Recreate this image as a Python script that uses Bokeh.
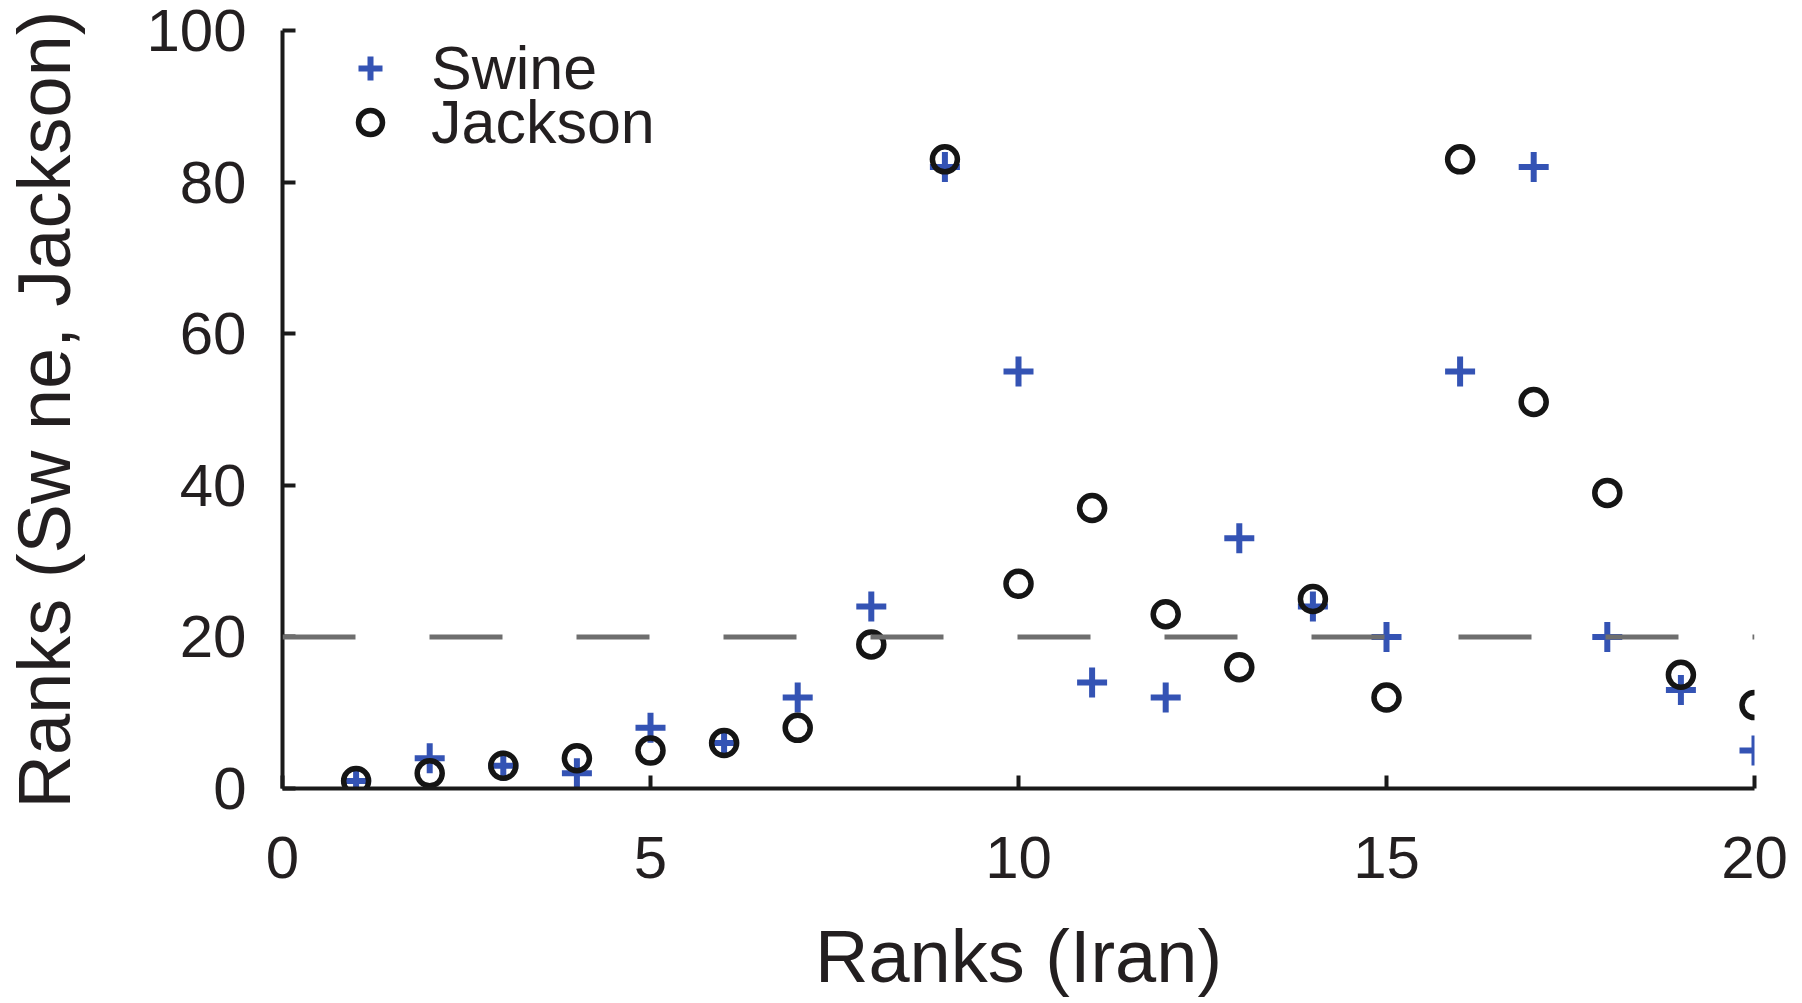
from bokeh.plotting import figure
from bokeh.models import Range1d, FixedTicker, Legend, LegendItem, Span
from bokeh.embed import file_html
from bokeh.resources import INLINE

# ---- data ----
iran_rank = list(range(1, 21))
swine_rank = [1, 4, 3, 2, 8, 6, 12, 24, 82, 55, 14, 12, 33, 24, 20, 55, 82, 20, 13, 5]
jackson_rank = [1, 2, 3, 4, 5, 6, 8, 19, 83, 27, 37, 23, 16, 25, 12, 83, 51, 39, 15, 11]
threshold = 20
x_ticks = [0, 5, 10, 15, 20]
y_ticks = [0, 20, 40, 60, 80, 100]
series_names = ["Swine", "Jackson"]

FONT = "Liberation Sans"
TXT = "#231f20"
AX = "#1a1a1a"
BLUE = "#3453b4"

p = figure(width=1800, height=1000,
           x_range=Range1d(0, 20), y_range=Range1d(0, 100),
           output_backend="svg", toolbar_location=None,
           min_border_left=280, min_border_right=46,
           min_border_top=30, min_border_bottom=212)
p.outline_line_color = None
p.xgrid.visible = False
p.ygrid.visible = False
p.background_fill_color = "white"
p.border_fill_color = "white"

for ax in (p.xaxis[0], p.yaxis[0]):
    ax.axis_line_width = 4
    ax.axis_line_color = AX
    ax.major_tick_line_width = 4
    ax.major_tick_line_color = AX
    ax.major_tick_in = 13
    ax.major_tick_out = 0
    ax.minor_tick_line_color = None
    ax.major_label_text_font = FONT
    ax.major_label_text_font_size = "60px"
    ax.major_label_text_color = TXT
    ax.axis_label_text_font = FONT
    ax.axis_label_text_font_size = "74px"
    ax.axis_label_text_font_style = "normal"
    ax.axis_label_text_color = TXT

p.xaxis.ticker = FixedTicker(ticks=x_ticks)
p.yaxis.ticker = FixedTicker(ticks=y_ticks)
p.xaxis.axis_label = "Ranks (Iran)"
p.yaxis.axis_label = "Ranks (Sw ne, Jackson)"
p.xaxis.major_label_standoff = 48
p.xaxis.axis_label_standoff = 34
p.yaxis.major_label_standoff = 36
p.yaxis.axis_label_standoff = 57

span = Span(location=threshold, dimension="width", line_color="#6e6e6e",
            line_width=5, line_dash="73 74")
p.add_layout(span)

r_sw = p.scatter(iran_rank, swine_rank, marker="cross", size=30,
                 line_color=BLUE, line_width=6)
r_ja = p.scatter(iran_rank, jackson_rank, marker="circle", size=25,
                 fill_color=None, line_color="#151515", line_width=5.5)

common = dict(orientation="vertical", glyph_width=60, glyph_height=60,
              label_height=60, label_standoff=31, spacing=0, padding=0,
              margin=0, border_line_color=None, background_fill_alpha=0,
              label_text_font=FONT, label_text_font_size="61px",
              label_text_color=TXT)
leg1 = Legend(items=[LegendItem(label=series_names[0], renderers=[r_sw])],
              location=(58, 685), **common)
leg2 = Legend(items=[LegendItem(label=series_names[1], renderers=[r_ja])],
              location=(58, 631), **common)
p.add_layout(leg1)
p.add_layout(leg2)

open("out.html", "w").write(file_html(p, INLINE))
